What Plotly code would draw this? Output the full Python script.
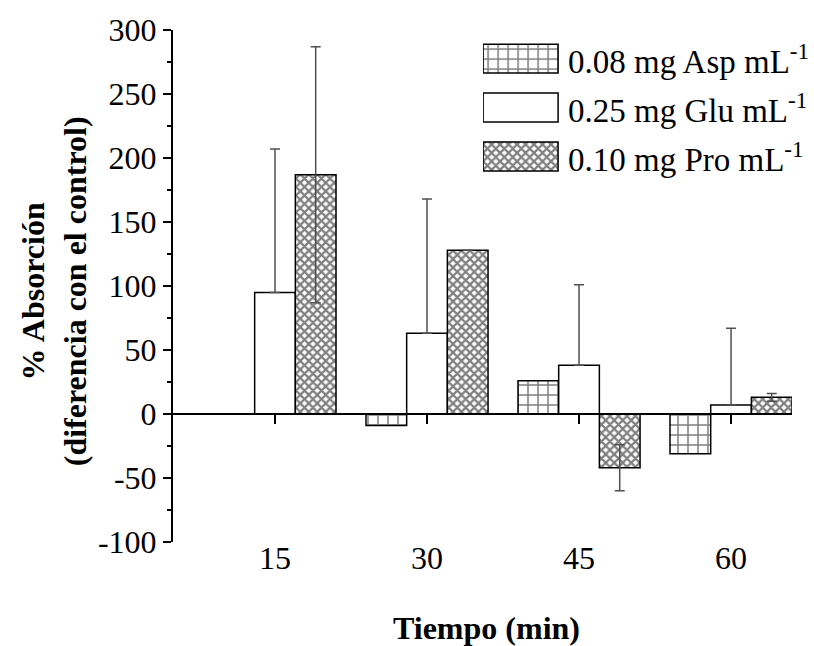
import plotly.graph_objects as go

categories = ["15", "30", "45", "60"]
asp = [None, -9, 26, -31]
glu = [95, 63, 38, 7]
glu_err = [112, 105, 63, 60]
pro = [187, 128, -42, 13]
pro_err = [100, 0, 18, 3]
y_tick_vals = [-100, -50, 0, 50, 100, 150, 200, 250, 300]
y_tick_text = ["-100", "-50", "0", "50", "100", "150", "200", "250", "300"]
names = ["0.08 mg Asp mL<sup>-1</sup>", "0.25 mg Glu mL<sup>-1</sup>", "0.10 mg Pro mL<sup>-1</sup>"]

xpos = list(range(len(categories)))
FONT = "Liberation Serif"
FS = 32
LEG_FS = 33
err_col = "#505050"
OUTLINE = dict(color="black", width=1.5)
markers = [
    dict(color="white", line=OUTLINE,
         pattern=dict(shape="+", fgcolor="black", bgcolor="white", size=10, solidity=0.28)),
    dict(color="white", line=OUTLINE),
    dict(color="white", line=OUTLINE,
         pattern=dict(shape="x", fgcolor="black", bgcolor="white", size=6, solidity=0.6)),
]

fig = go.Figure()
fig.add_trace(go.Bar(x=xpos, y=asp, name=names[0], marker=markers[0], showlegend=False))
fig.add_trace(go.Bar(
    x=xpos, y=glu, name=names[1], marker=markers[1], showlegend=False,
    error_y=dict(type="data", array=glu_err, arrayminus=[0] * len(glu_err), symmetric=False,
                 color=err_col, thickness=1.5, width=5),
))
fig.add_trace(go.Bar(
    x=xpos, y=pro, name=names[2], marker=markers[2], showlegend=False,
    error_y=dict(type="data", array=pro_err, symmetric=True,
                 color=err_col, thickness=1.5, width=5),
))
# empty helper trace so the zero-line axis (ticks at y = 0) is drawn
fig.add_trace(go.Scatter(x=xpos, y=[None] * len(xpos), xaxis="x2", yaxis="y",
                         mode="lines", showlegend=False, hoverinfo="skip"))

# custom legend with large patterned swatches (one row per series)
for i, (nm, mk) in enumerate(zip(names, markers)):
    fig.add_trace(go.Bar(x=[1], y=[i], base=0, orientation="h", width=0.59, marker=mk,
                         xaxis="x3", yaxis="y3", showlegend=False, hoverinfo="skip"))
    fig.add_annotation(text=nm, xref="x3", yref="y3", x=1.1, y=i, xanchor="left",
                       yanchor="middle", showarrow=False,
                       font=dict(family=FONT, size=LEG_FS, color="black"))

fig.update_layout(
    width=814, height=646,
    margin=dict(l=173, r=22, t=30, b=104),
    plot_bgcolor="white", paper_bgcolor="white",
    barmode="group", bargap=0.197, bargroupgap=0,
    font=dict(family=FONT, size=FS, color="black"),
    showlegend=False,
    xaxis=dict(
        range=[-0.671, 3.401], tickmode="array", tickvals=xpos, ticktext=categories,
        showline=False, ticks="", showgrid=False, zeroline=False, ticklabelstandoff=-6,
        tickfont=dict(family=FONT, size=FS, color="black"),
    ),
    xaxis2=dict(
        overlaying="x", matches="x", anchor="free", position=0.25,
        tickmode="array", tickvals=xpos, showticklabels=False,
        showline=True, linecolor="black", linewidth=2,
        ticks="outside", ticklen=9, tickwidth=2, tickcolor="black",
        showgrid=False, zeroline=False,
    ),
    yaxis=dict(
        range=[-100, 300], tickmode="array", tickvals=y_tick_vals, ticktext=y_tick_text,
        showline=True, linecolor="black", linewidth=2,
        ticks="outside", ticklen=8, tickwidth=2, tickcolor="black",
        minor=dict(dtick=25, ticks="outside", ticklen=4, tickwidth=1.5, tickcolor="black", showgrid=False),
        showgrid=False, zeroline=False,
        tickfont=dict(family=FONT, size=FS, color="black"),
    ),
    xaxis3=dict(domain=[0.501, 1.0], range=[0, 4.12], anchor="y3", visible=False, fixedrange=True),
    yaxis3=dict(domain=[0.705, 0.992], range=[2.5, -0.5], anchor="x3", visible=False, fixedrange=True),
)

fig.add_annotation(text="<b>% Absorción<br>(diferencia con el control)</b>", xref="paper", yref="paper",
                   x=-0.192, y=0.49, xanchor="center", yanchor="middle", textangle=-90,
                   showarrow=False, font=dict(family=FONT, size=FS, color="black"))
fig.add_annotation(text="<b>Tiempo (min)</b>", xref="paper", yref="paper",
                   x=0.506, y=-0.168, xanchor="center", yanchor="middle", showarrow=False,
                   font=dict(family=FONT, size=FS, color="black"))

fig.write_html("out.html")
